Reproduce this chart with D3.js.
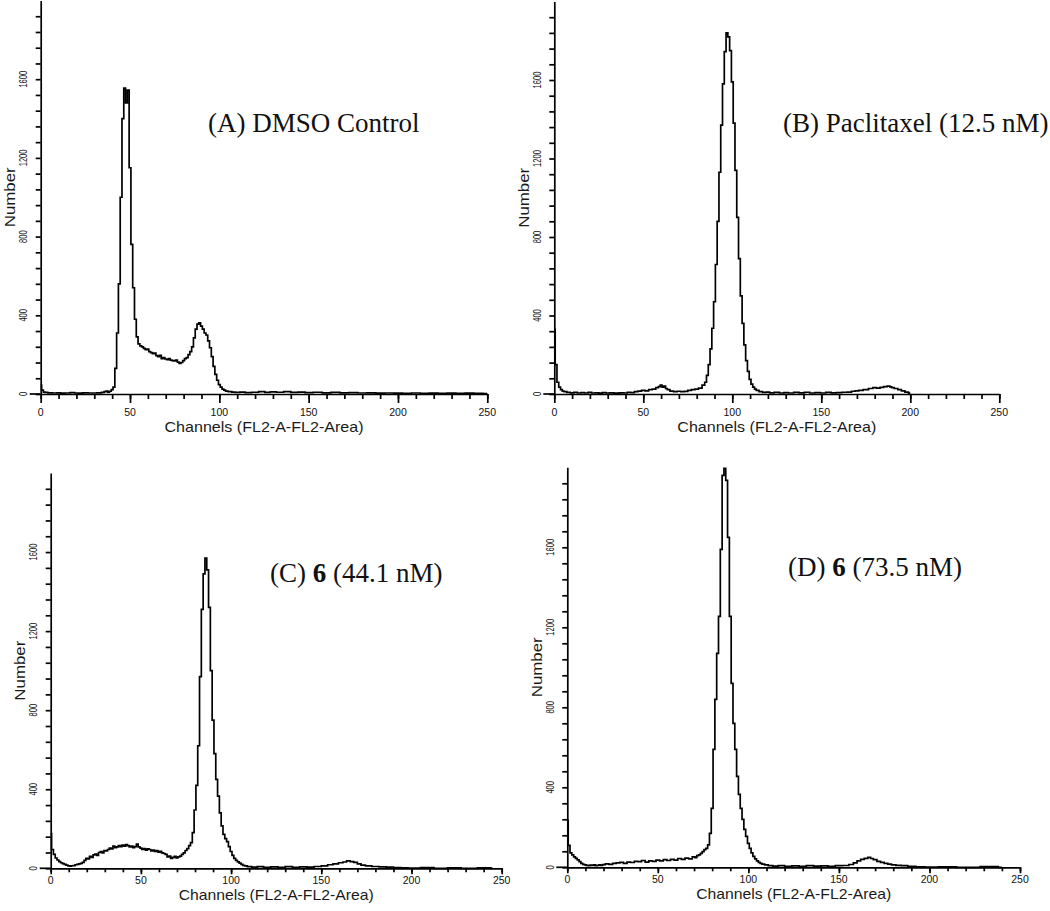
<!DOCTYPE html>
<html>
<head>
<meta charset="utf-8">
<script src="https://cdn.jsdelivr.net/npm/d3@7"></script>
<style>
    body { margin: 0; background: #fff; }
    svg { display: block; }
    .tick-label { font-family: "Liberation Sans", Arial, sans-serif; font-size: 10.5px; fill: #111; }
    .axis-title { font-family: "Liberation Sans", Arial, sans-serif; font-size: 15px; fill: #1a1a1a; }
    .panel-title { font-family: "Liberation Serif", "Times New Roman", serif; font-size: 27px; fill: #111; }
</style>
</head>
<body>
<div id="chart"></div>
<script>
// histogram counts, [channel, number]
var dmsoControl = [[0,45],[1,20],[2,10],[3,8],[5,6],[8,5],[10,6],[12,4],[15,5],[18,7],[20,5],[22,4],[25,6],[28,5],[30,5],[33,6],[35,8],[36,12],[37,15],[38,10],[39,14],[40,22],[41,35],
    [42,130],[43,310],[44,560],[45,1000],[46,1400],[47,1555],[48,1480],[49,1545],[50,1150],[51,760],[52,540],[53,380],[54,290],[55,255],[56,245],[57,240],[58,232],[59,225],
    [60,228],[61,215],[62,210],[63,205],[64,208],[65,195],[66,190],[67,196],[68,180],[69,185],[70,178],[71,175],[72,180],[73,172],[74,170],[75,168],[76,172],[77,162],[78,155],[79,160],
    [80,170],[81,180],[82,185],[83,200],[84,215],[85,240],[86,285],[87,330],[88,355],[89,362],[90,345],[91,330],[92,310],[93,300],[94,270],[95,235],[96,190],[97,140],[98,100],[99,70],
    [100,48],[101,35],[102,25],[103,20],[104,15],[106,12],[108,10],[110,8],[113,10],[116,7],[120,9],[124,12],[127,8],[130,11],[134,9],[138,12],[142,8],[146,10],[150,7],[155,9],
    [160,6],[165,8],[170,6],[175,7],[180,5],[185,6],[190,4],[195,5],[200,4],[205,3],[210,5],[215,3],[220,4],[225,3],[230,4],[235,3],[240,4],[245,3],[250,2]];

var paclitaxel = [[0,330],[1,150],[2,60],[3,35],[4,22],[5,15],[6,12],[8,8],[10,6],[12,8],[14,5],[16,7],[18,5],[20,8],[22,5],[24,6],[26,4],[28,7],[30,5],[32,6],[35,4],[38,6],[40,5],
    [42,8],[44,7],[46,12],[48,15],[50,18],[52,16],[54,22],[56,25],[58,32],[59,38],[60,45],[61,35],[62,40],[63,28],[64,22],[66,15],[68,12],[70,14],[72,12],[74,13],[76,18],[78,22],
    [80,25],[82,30],[84,45],[85,60],[86,95],[87,150],[88,230],[89,335],[90,470],[91,660],[92,880],[93,1130],[94,1370],[95,1580],[96,1745],[97,1840],[98,1820],[99,1750],
    [100,1590],[101,1380],[102,1140],[103,900],[104,690],[105,500],[106,360],[107,250],[108,170],[109,115],[110,75],[111,50],[112,35],[113,25],[114,18],[116,12],[118,8],
    [120,10],[122,6],[125,8],[128,5],[130,7],[133,5],[136,8],[139,6],[142,9],[145,5],[148,7],[151,5],[154,8],[157,6],[160,7],[163,9],[166,10],[168,14],[170,16],[172,18],
    [175,22],[178,28],[180,32],[182,30],[184,34],[186,38],[188,40],[189,36],[190,32],[192,28],[194,22],[196,16],[198,10],[200,4]];

var cmpd6Low = [[0,175],[1,95],[2,70],[3,52],[4,42],[5,34],[6,28],[7,24],[8,20],[9,16],[10,12],[11,11],[12,13],[13,14],[14,18],[15,20],[16,22],[17,25],[18,30],[19,40],
    [20,50],[21,48],[22,60],[23,55],[24,68],[25,72],[26,65],[27,80],[28,85],[29,78],[30,90],[31,88],[32,95],[33,102],[34,98],[35,112],[36,105],[37,108],[38,115],[39,110],
    [40,118],[41,112],[42,120],[43,115],[44,108],[45,112],[46,105],[47,110],[48,122],[49,108],[50,102],[51,95],[52,100],[53,92],[54,98],[55,95],[56,88],[57,92],[58,85],[59,90],
    [60,82],[61,86],[62,78],[63,75],[64,70],[65,58],[66,62],[67,50],[68,55],[69,60],[70,52],[71,58],[72,62],[73,70],[74,78],[75,90],[76,100],[77,115],[78,130],[79,180],
    [80,295],[81,420],[82,620],[83,970],[84,1310],[85,1490],[86,1570],[87,1510],[88,1320],[89,1000],[90,750],[91,580],[92,450],[93,365],[94,280],[95,215],[96,172],[97,150],[98,135],[99,110],
    [100,85],[101,65],[102,50],[103,40],[104,33],[105,26],[106,20],[107,15],[108,12],[110,8],[113,6],[116,8],[120,5],[124,7],[128,5],[132,8],[136,5],[140,7],[144,6],[148,9],
    [152,12],[155,18],[158,22],[161,28],[163,32],[165,38],[167,34],[169,30],[171,22],[173,16],[176,12],[180,9],[184,7],[188,6],[192,4],[196,2],[200,1],[210,3],[215,0],[225,2],[230,0],[243,2],[245,0]];

var cmpd6High = [[0,235],[1,110],[2,72],[3,62],[4,52],[5,45],[6,37],[7,28],[8,20],[9,15],[10,12],[11,10],[12,8],[13,11],[14,9],[15,12],[16,8],[17,10],[18,12],[19,9],
    [20,13],[22,17],[24,15],[26,20],[28,22],[30,25],[32,20],[34,26],[36,24],[38,30],[40,28],[42,34],[44,26],[46,32],[48,30],[50,36],[52,32],[54,38],[56,34],[58,40],
    [60,36],[62,44],[64,40],[66,46],[68,42],[70,52],[71,48],[72,58],[73,62],[74,70],[75,78],[76,88],[77,95],[78,112],[79,170],
    [80,295],[81,590],[82,840],[83,1070],[84,1255],[85,1590],[86,1960],[87,1995],[88,1935],[89,1650],[90,1255],[91,920],[92,720],[93,590],[94,455],[95,365],[96,295],[97,240],[98,190],[99,155],
    [100,120],[101,95],[102,72],[103,55],[104,42],[105,32],[106,25],[107,20],[108,16],[110,12],[112,8],[115,6],[118,8],[122,5],[126,7],[130,5],[134,8],[138,6],[142,7],[146,5],
    [150,8],[154,9],[157,14],[159,22],[161,32],[163,40],[165,45],[167,50],[168,44],[170,38],[172,30],[174,25],[176,20],[178,16],[180,12],[183,10],[186,8],[190,5],[195,2],[200,1],
    [210,2],[220,0],[236,3],[240,0]];

var xTickLabels = [0, 50, 100, 150, 200, 250];
var yTickLabels = [0, 400, 800, 1200, 1600];

var panelTitles = [
    [{ t: "(A) DMSO Control" }],
    [{ t: "(B) Paclitaxel (12.5 nM)" }],
    [{ t: "(C) " }, { t: "6", bold: true }, { t: " (44.1 nM)" }],
    [{ t: "(D) " }, { t: "6", bold: true }, { t: " (73.5 nM)" }]
];

// panel geometry
var panels = [
    { data: dmsoControl, title: panelTitles[0], x0: 40.7, x1: 487.3, base: 394, top: 0.5, major: 9, minor: 5, labelDy: 22, titleDy: 38, xTitleLen: 199, tx: 208, ty: 132 },
    { data: paclitaxel, title: panelTitles[1], x0: 554.3, x1: 999.3, base: 394, top: 1.5, major: 9, minor: 5, labelDy: 22, titleDy: 38, xTitleLen: 199, tx: 783, ty: 132 },
    { data: cmpd6Low, title: panelTitles[2], x0: 50.7, x1: 501.7, base: 868.3, top: 473, major: 6, minor: 4, labelDy: 16, titleDy: 32, xTitleLen: 195, tx: 270, ty: 582 },
    { data: cmpd6High, title: panelTitles[3], x0: 567.3, x1: 1020, base: 867.3, top: 467.3, major: 6, minor: 4, labelDy: 16, titleDy: 32, xTitleLen: 195, tx: 788, ty: 576 }
];

var svg = d3.select("#chart").append("svg")
    .attr("width", 1050)
    .attr("height", 911);

svg.append("rect").attr("width", 1050).attr("height", 911).attr("fill", "#fff");

panels.forEach(function (p) {
    var x = d3.scaleLinear().domain([0, 250]).range([p.x0, p.x1]);
    var y = d3.scaleLinear().domain([0, 2000]).range([p.base, p.top]);
    var g = svg.append("g");

    // x axis: minor ticks every 10, major every 50
    g.append("g")
        .attr("transform", "translate(0," + p.base + ")")
        .call(d3.axisBottom(x).tickValues(d3.range(0, 251, 10)).tickSize(p.minor).tickSizeOuter(0).tickFormat(""));
    var xMajor = g.append("g")
        .attr("transform", "translate(0," + p.base + ")")
        .call(d3.axisBottom(x).tickValues(xTickLabels).tickSize(p.major).tickSizeOuter(0).tickFormat(""));
    xMajor.select(".domain").remove();

    // y axis: ticks every 80
    g.append("g")
        .attr("transform", "translate(" + p.x0 + ",0)")
        .call(d3.axisLeft(y).tickValues(d3.range(0, 2000, 80)).tickSize(5).tickSizeOuter(0).tickFormat(""));

    g.selectAll(".domain, .tick line")
        .attr("stroke", "#000")
        .attr("stroke-width", 1.7);

    // baseline runs a little left of the y axis
    g.append("line")
        .attr("x1", p.x0 - 11).attr("x2", p.x0)
        .attr("y1", y(0)).attr("y2", y(0))
        .attr("stroke", "#000").attr("stroke-width", 1.7);

    g.selectAll(".xlab")
        .data(xTickLabels)
        .enter()
        .append("text")
        .attr("class", "tick-label")
        .attr("x", function (d) { return x(d); })
        .attr("y", p.base + p.labelDy)
        .attr("text-anchor", "middle")
        .text(function (d) { return d; });

    g.selectAll(".ylab")
        .data(yTickLabels)
        .enter()
        .append("text")
        .attr("class", "tick-label")
        .attr("text-anchor", "middle")
        .attr("dominant-baseline", "central")
        .attr("transform", function (d) {
            return "translate(" + (p.x0 - 17) + "," + y(d) + ") rotate(-90) scale(0.72,1)";
        })
        .text(function (d) { return d; });

    g.append("text")
        .attr("class", "axis-title")
        .attr("x", (p.x0 + p.x1) / 2)
        .attr("y", p.base + p.titleDy)
        .attr("text-anchor", "middle")
        .attr("textLength", p.xTitleLen)
        .attr("lengthAdjust", "spacingAndGlyphs")
        .text("Channels (FL2-A-FL2-Area)");

    g.append("text")
        .attr("class", "axis-title")
        .attr("text-anchor", "middle")
        .attr("dominant-baseline", "central")
        .attr("textLength", 60)
        .attr("lengthAdjust", "spacingAndGlyphs")
        .attr("transform", "translate(" + (p.x0 - 31) + "," + ((p.base + p.top) / 2) + ") rotate(-90)")
        .text("Number");

    var line = d3.line()
        .x(function (d) { return x(d[0]); })
        .y(function (d) { return y(d[1]); })
        .curve(d3.curveStep);

    g.append("path")
        .datum(p.data)
        .attr("d", line)
        .attr("fill", "none")
        .attr("stroke", "#000")
        .attr("stroke-width", 1.7);

    var title = g.append("text")
        .attr("class", "panel-title")
        .attr("x", p.tx)
        .attr("y", p.ty);
    title.selectAll("tspan")
        .data(p.title)
        .enter()
        .append("tspan")
        .attr("font-weight", function (d) { return d.bold ? "bold" : null; })
        .text(function (d) { return d.t; });
});
</script>
</body>
</html>
